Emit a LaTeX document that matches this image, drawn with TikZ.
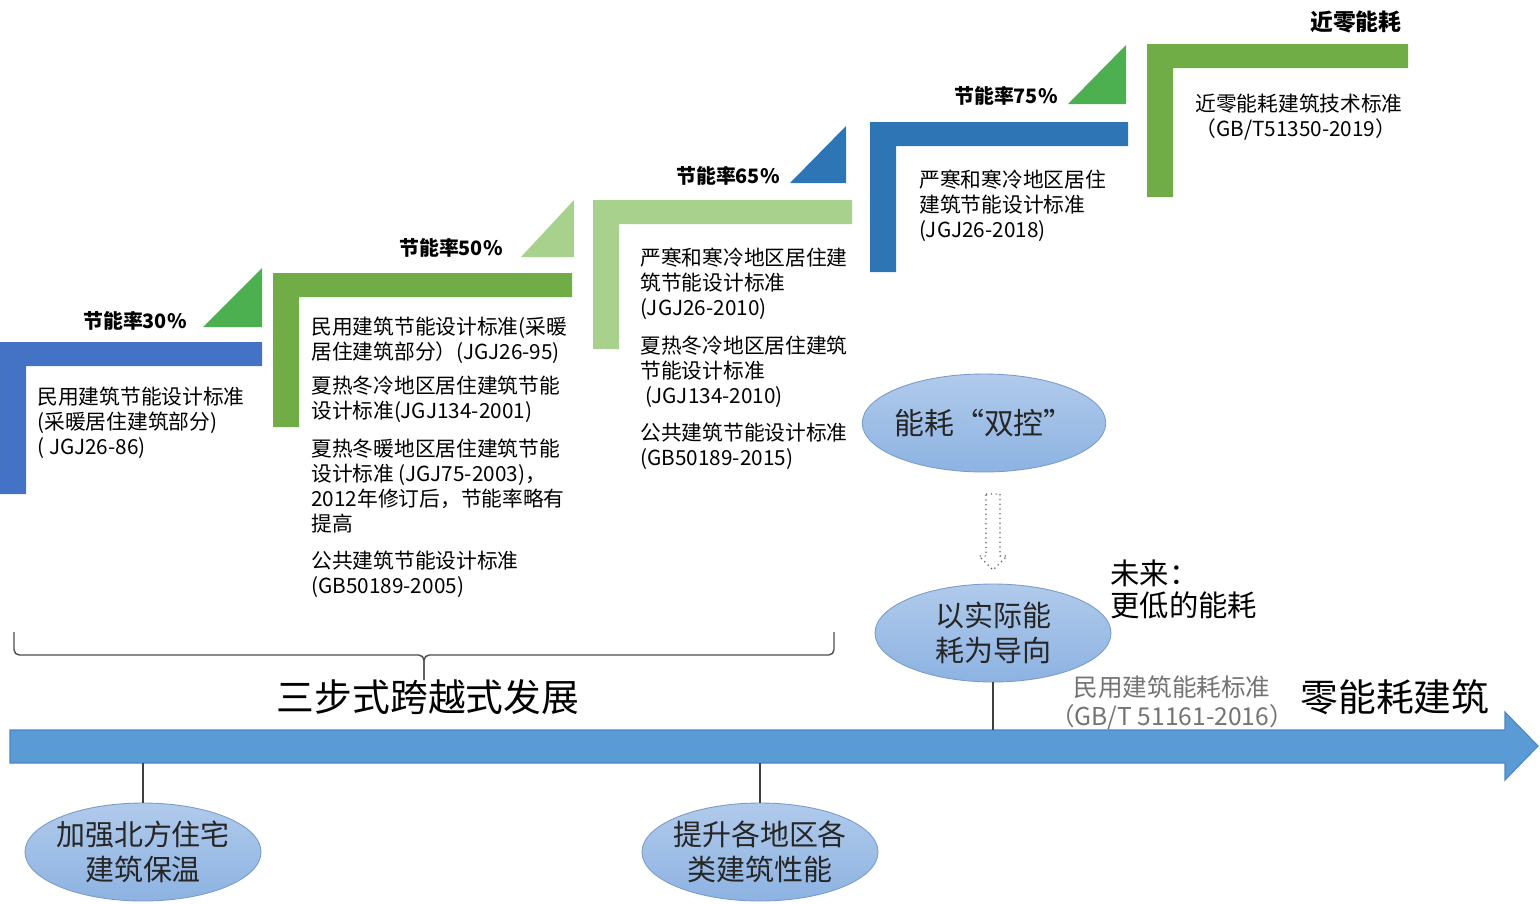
\documentclass[tikz,border=0pt]{standalone}
\usepackage{fontspec}
\setmainfont{Noto Sans CJK SC}
\usetikzlibrary{positioning,shapes.geometric,arrows.meta}

\definecolor{blueA}{HTML}{4472C4}
\definecolor{blueB}{HTML}{2E75B6}
\definecolor{greenA}{HTML}{70AD47}
\definecolor{greenB}{HTML}{A9D18E}
\definecolor{greenC}{HTML}{4CAF50}
\definecolor{axisblue}{HTML}{5B9BD5}
\definecolor{axisedge}{HTML}{4A86C2}
\definecolor{ovaltop}{HTML}{B0CAEB}
\definecolor{ovalbot}{HTML}{8DB3E2}
\definecolor{ovaledge}{HTML}{7A9CCB}

\begin{document}
\begin{tikzpicture}[x=0.02cm, y=-0.02cm,
    stdtext/.style={anchor=north west, inner sep=0, align=left, font=\fontsize{11.8}{14.2}\selectfont},
    rate/.style={anchor=east, inner sep=0, font=\fontsize{11.3}{13}\selectfont\bfseries},
    goal/.style={ellipse, draw=ovaledge, line width=0.5pt, top color=ovaltop, bottom color=ovalbot,
      minimum width=4.72cm, minimum height=1.96cm, inner xsep=-2pt, inner ysep=0, align=center,
      text=black!85, font=\fontsize{16.5}{19.8}\selectfont},
    tick/.style={draw=black!75, line width=1.1pt}]
        \useasboundingbox (0,0) rectangle (1540,903);

        % Steps (L-shaped bars)
        \foreach \xa/\ya/\xb/\yb/\col in {0/342/262/494/blueA, 273/273/572/427/greenA, 593/200/852/349/greenB, 870/122/1128/272/blueB, 1147/44/1408/197/greenA} {
          \fill[\col] (\xa,\ya) -- (\xb,\ya) -- (\xb,\ya+24) -- (\xa+26,\ya+24) -- (\xa+26,\yb) -- (\xa,\yb) -- cycle;
        }

        % Triangles between steps
        \foreach \xa/\ya/\xb/\yb/\col in {203/327/262/268/greenC, 521/257/574/200/greenB, 790/183/846/126/blueB, 1068/104/1126/45/greenC} {
          \fill[\col] (\xa,\ya) -- (\xb,\ya) -- (\xb,\yb) -- cycle;
        }

        % Rate labels
        \node[rate] (rate30) at (187,321) {节能率30\%};
        \node[rate] (rate50) at (503,248) {节能率50\%};
        \node[rate] (rate65) at (780,176) {节能率65\%};
        \node[rate] (rate75) at (1058,96) {节能率75\%};
        \node[rate, font=\fontsize{13}{15}\selectfont\bfseries] (nzeb) at (1402,22) {近零能耗};

        % Standards under each step
        \node[stdtext] (std30) at (37,387) {民用建筑节能设计标准\\(采暖居住建筑部分)\\( JGJ26-86)};
        \node[stdtext] (std50a) at (311,317) {民用建筑节能设计标准(采暖\\居住建筑部分）(JGJ26-95)};
        \node[stdtext] (std50b) at (311,376) {夏热冬冷地区居住建筑节能\\设计标准(JGJ134-2001)};
        \node[stdtext] (std50c) at (311,439) {夏热冬暖地区居住建筑节能\\设计标准 (JGJ75-2003)，\\2012年修订后，节能率略有\\提高};
        \node[stdtext] (std50d) at (311,551) {公共建筑节能设计标准\\(GB50189-2005)};
        \node[stdtext] (std65a) at (640,248) {严寒和寒冷地区居住建\\筑节能设计标准\\(JGJ26-2010)};
        \node[stdtext] (std65b) at (640,336) {夏热冬冷地区居住建筑\\节能设计标准\\\ (JGJ134-2010)};
        \node[stdtext] (std65c) at (640,423) {公共建筑节能设计标准\\(GB50189-2015)};
        \node[stdtext] (std75) at (919,170) {严寒和寒冷地区居住\\建筑节能设计标准\\(JGJ26-2018)};
        \node[stdtext] (stdnz) at (1195,94) {近零能耗建筑技术标准\\（GB/T51350-2019）};

        % Brace over the three steps
        \coordinate (braceL) at (14,632);
        \coordinate (braceR) at (834,632);
        \coordinate (braceM) at (424,680);
        \draw[black!70, line width=0.8pt, rounded corners=3pt] (braceL) |- (braceM |- 0,655) -- (braceM);
        \draw[black!70, line width=0.8pt, rounded corners=3pt] (braceR) |- (braceM |- 0,655) -- (braceM);
        \node[font=\fontsize{21.5}{24}\selectfont] (leap) at (428,697) {三步式跨越式发展};

        % Time axis
        \fill[axisblue, draw=axisedge, line width=0.6pt] (10,730) -- (1505,730) -- (1505,712) -- (1538,746) -- (1505,780) -- (1505,763) -- (10,763) -- cycle;
        \coordinate (t1) at (143,763);
        \coordinate (t2) at (760,763);
        \coordinate (t3) at (993,730);
        \node[font=\fontsize{21.5}{24}\selectfont] (zeb) at (1395,697) {零能耗建筑};
        \node[text=black!55, align=center, font=\fontsize{14}{16.4}\selectfont] (ecstd) at (1172,703) {民用建筑能耗标准\\（GB/T 51161-2016）};

        % Goals
        \node[goal] (north) at (143,852) {加强北方住宅\\建筑保温};
        \node[goal] (region) at (760,852) {提升各地区各\\类建筑性能};
        \node[goal] (actual) at (993,633) {以实际能\\耗为导向};
        \node[goal, font=\fontsize{17}{20}\selectfont] (dual) at (984,423) {能耗“双控”};
        \draw[tick] (north) -- (t1);
        \draw[tick] (region) -- (t2);
        \draw[tick] (actual) -- (t3);

        % Hollow arrow from dual control
        \coordinate (flow) at (993,494);
        \draw[black!65, dotted, line width=0.7pt] (flow) ++(-7,0) -- ++(14,0) -- ++(0,62) -- ++(7,0) -- ++(-14,14) -- ++(-14,-14) -- ++(7,0) -- cycle;

        \node[anchor=north west, inner sep=0, align=left, font=\fontsize{16.7}{18.7}\selectfont] (future) at (1110,559) {未来：\\更低的能耗};
      \end{tikzpicture}
\end{document}
